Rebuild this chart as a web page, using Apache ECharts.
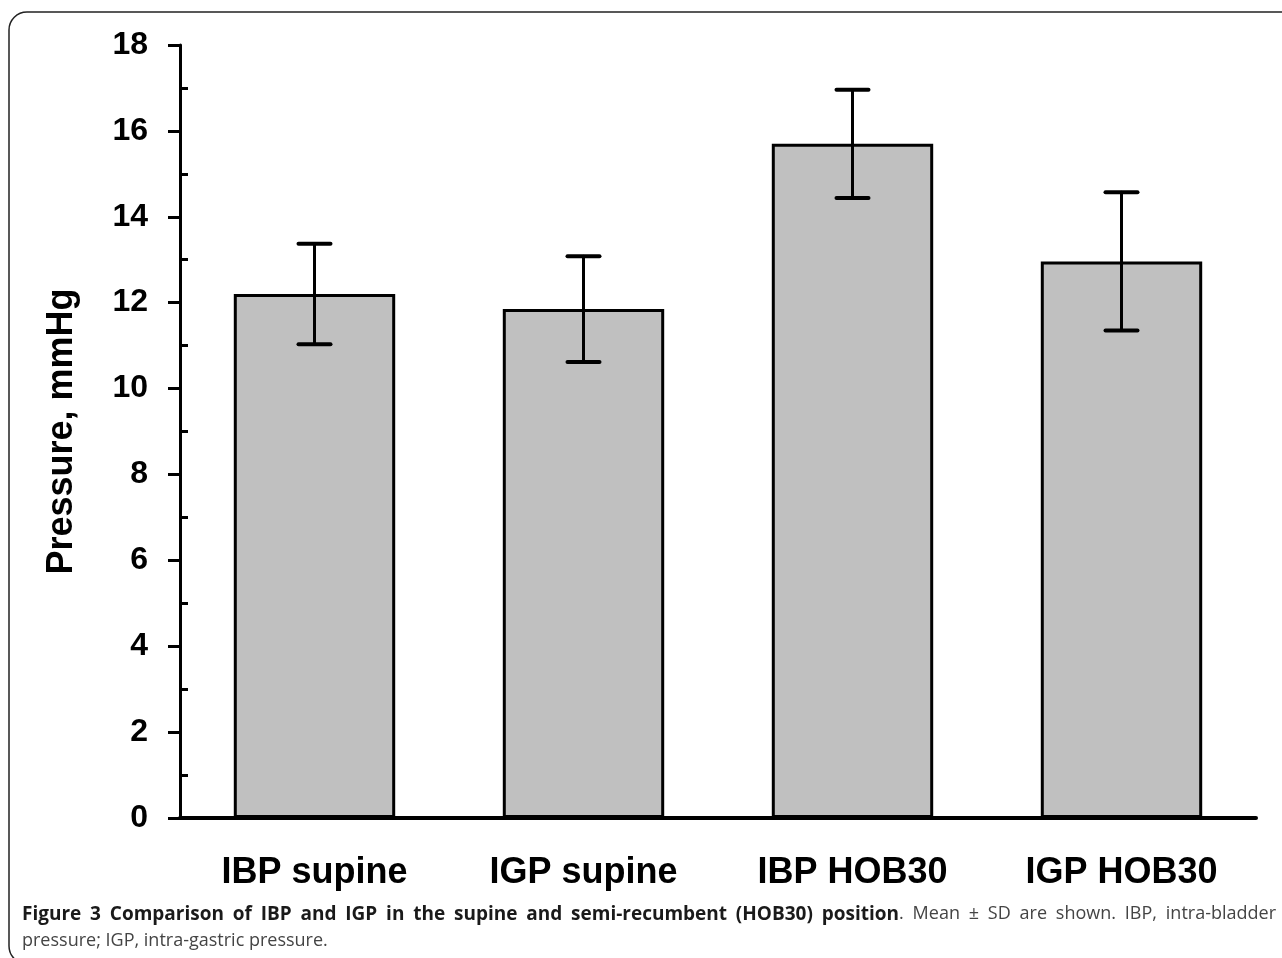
<!DOCTYPE html>
<html>
<head>
<meta charset="utf-8">
<script src="https://cdn.jsdelivr.net/npm/echarts@6/dist/echarts.min.js"></script>
<style>
  html, body { margin: 0; padding: 0; background: #fff; }
  #chart { width: 1282px; height: 958px; }
</style>
</head>
<body>
<div id="chart"></div>
<script>
// values (mean and SD, mmHg)
const categories = ['IBP supine', 'IGP supine', 'IBP HOB30', 'IGP HOB30'];
const means = [12.2, 11.85, 15.7, 12.96];
const sds = [1.17, 1.23, 1.26, 1.61];
const yTicks = [0, 2, 4, 6, 8, 10, 12, 14, 16, 18];

const captionBold = 'Figure 3 Comparison of IBP and IGP in the supine and semi-recumbent (HOB30) position';
const captionRest1 = '. Mean ± SD are shown. IBP, intra-bladder';
const captionRest2 = 'pressure; IGP, intra-gastric pressure.';

const errData = means.map((m, i) => [i, m - sds[i], m + sds[i]]);

const chart = echarts.init(document.getElementById('chart'), null, { renderer: 'canvas' });

function renderErr(params, api) {
  const lo = api.coord([api.value(0), api.value(1)]);
  const hi = api.coord([api.value(0), api.value(2)]);
  const half = 16;
  const st = { stroke: '#000', lineWidth: 3, lineCap: 'round' };
  const cap = { stroke: '#000', lineWidth: 4, lineCap: 'round' };
  return {
    type: 'group',
    children: [
      { type: 'line', shape: { x1: hi[0], y1: hi[1], x2: lo[0], y2: lo[1] }, style: st },
      { type: 'line', shape: { x1: hi[0] - half, y1: hi[1], x2: hi[0] + half, y2: hi[1] }, style: cap },
      { type: 'line', shape: { x1: lo[0] - half, y1: lo[1], x2: lo[0] + half, y2: lo[1] }, style: cap }
    ]
  };
}

// caption first line is justified in the original figure
const boldFont = 'bold 19px "Open Sans"';
const regFont = '18px "Open Sans"';
function justifiedLine(left, right, top) {
  const ctx = document.createElement('canvas').getContext('2d');
  const words = [];
  captionBold.split(' ').forEach(w => words.push({ t: w, f: boldFont, c: '#1a1a1a' }));
  // '.' sticks to the last bold word
  const rest = captionRest1.slice(1).trim().split(' ');
  words.push({ t: '.', f: regFont, c: '#444', glue: true });
  rest.forEach(w => words.push({ t: w, f: regFont, c: '#444' }));
  let total = 0, gaps = 0;
  words.forEach(w => { ctx.font = w.f; w.w = ctx.measureText(w.t).width; total += w.w; if (!w.glue) gaps++; });
  gaps -= 1;
  const sp = (right - left - total) / gaps;
  let x = left;
  return words.map((w, i) => {
    if (i > 0 && !w.glue) x += sp;
    const el = { type: 'text', x: x, y: top, silent: true, style: { text: w.t, font: w.f, fill: w.c, textVerticalAlign: 'top' } };
    x += w.w;
    return el;
  });
}

const axisFont = 'Liberation Sans, Arial, sans-serif';

chart.setOption({
  animation: false,
  backgroundColor: '#fff',
  grid: { left: 180, right: 26, top: 45, bottom: 140 },
  xAxis: {
    type: 'category',
    data: categories,
    axisLine: { lineStyle: { color: '#000', width: 4 } },
    axisTick: { alignWithLabel: true, length: 13, lineStyle: { color: '#000', width: 3 } },
    axisLabel: { margin: 37, color: '#000', fontFamily: axisFont, fontWeight: 'bold', fontSize: 36 }
  },
  yAxis: [
    {
      type: 'value',
      min: yTicks[0],
      max: yTicks[yTicks.length - 1],
      interval: 2,
      name: 'Pressure, mmHg',
      nameLocation: 'middle',
      nameGap: 100,
      nameTextStyle: { color: '#000', fontFamily: axisFont, fontWeight: 'bold', fontSize: 36 },
      splitLine: { show: false },
      axisLine: { show: true, lineStyle: { color: '#000', width: 3 } },
      axisTick: { show: true, length: 12, lineStyle: { color: '#000', width: 3 } },
      axisLabel: { margin: 32, color: '#000', fontFamily: axisFont, fontWeight: 'bold', fontSize: 32 }
    },
    {
      // inward minor ticks only
      type: 'value',
      position: 'left',
      min: yTicks[0],
      max: yTicks[yTicks.length - 1],
      interval: 2,
      splitLine: { show: false },
      axisLine: { show: false },
      axisLabel: { show: false },
      axisTick: { show: false, inside: true },
      minorTick: { show: true, splitNumber: 2, length: 8, lineStyle: { color: '#000', width: 3 } }
    }
  ],
  series: [
    {
      type: 'bar',
      data: means,
      barWidth: '60%',
      itemStyle: { color: '#c0c0c0', borderColor: '#000', borderWidth: 3 },
      z: 2
    },
    {
      type: 'custom',
      data: errData,
      encode: { x: 0, y: [1, 2] },
      renderItem: renderErr,
      z: 3
    }
  ],
  graphic: [
    {
      type: 'rect',
      shape: { x: 9, y: 12, width: 1300, height: 952, r: 18 },
      style: { fill: 'none', stroke: '#222', lineWidth: 1.5 },
      silent: true
    },
    {
      type: 'group',
      children: justifiedLine(22, 1276, 905)
    },
    {
      type: 'text',
      left: 22,
      top: 932,
      style: { text: captionRest2, font: regFont, fill: '#444' }
    }
  ]
});
</script>
</body>
</html>
